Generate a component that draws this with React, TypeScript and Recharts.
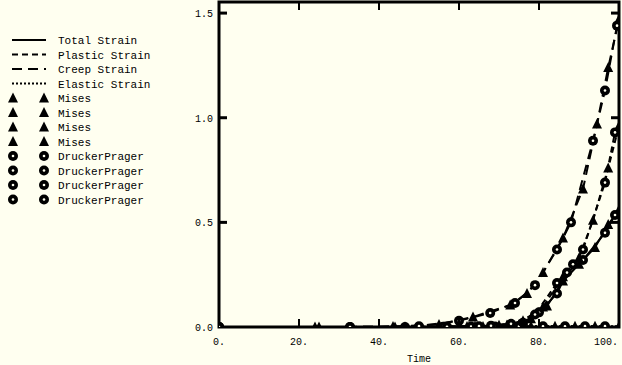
import { LineChart, Line, XAxis, YAxis, ReferenceArea } from 'recharts'

// values (time vs strain)
const timeTicks = [0, 20, 40, 60, 80, 100]
const strainTicks = [0, 0.5, 1.0, 1.5]

const totalMisesTime = [0, 46.5, 64, 72, 78, 82, 86, 90, 94, 97.3, 100]
const totalMisesStrain = [0, 0, 0.004, 0.01, 0.04, 0.1, 0.22, 0.3, 0.38, 0.49, 0.56]
const totalDpTime = [0, 57, 68, 76, 80, 84.5, 87, 91, 96.5, 99]
const totalDpStrain = [0, 0.001, 0.006, 0.02, 0.07, 0.16, 0.26, 0.32, 0.45, 0.535]

const plasticMisesTime = [0, 44, 62, 70, 76, 81, 86, 90, 93.5, 97.3, 100]
const plasticMisesStrain = [0, 0, 0.002, 0.008, 0.03, 0.096, 0.24, 0.33, 0.51, 0.76, 0.96]
const plasticDpTime = [0, 50, 65, 73, 79, 84.5, 88.5, 91, 96.5, 99]
const plasticDpStrain = [0, 0, 0.004, 0.015, 0.06, 0.21, 0.3, 0.37, 0.69, 0.93]

const creepMisesTime = [0, 25, 43.5, 55, 63.5, 72.8, 77, 81, 86, 91, 94.5, 97.3, 100]
const creepMisesStrain = [0, 0, 0.002, 0.012, 0.048, 0.105, 0.16, 0.26, 0.425, 0.66, 0.97, 1.24, 1.47]
const creepDpTime = [0, 32.75, 50, 60, 67.8, 74, 79, 84.5, 88, 93.5, 96.5, 99.5]
const creepDpStrain = [0, 0, 0.004, 0.03, 0.067, 0.115, 0.2, 0.37, 0.5, 0.89, 1.13, 1.44]

const elasticMisesTime = [0, 24, 46.5, 60, 66, 72, 78, 84, 89, 94, 100]
const elasticMisesStrain = [0, 0, 0, 0.001, 0.002, 0.002, 0.003, 0.003, 0.003, 0.004, 0.004]
const elasticDpTime = [0, 32.75, 46.5, 56, 63, 69, 75, 81, 86.5, 91.5, 96.5]
const elasticDpStrain = [0, 0, 0, 0.001, 0.002, 0.002, 0.003, 0.003, 0.003, 0.004, 0.004]

const lineNames = ['Total Strain', 'Plastic Strain', 'Creep Strain', 'Elastic Strain']
const modelNames = ['Mises', 'DruckerPrager']

const W = 622
const H = 365
const PLOT_LEFT = 219
const PLOT_RIGHT = 619
const PLOT_TOP = 2
const PLOT_BOTTOM = 327
const Y_MAX = 1.553
const BG = '#fffff0'
const FONT = '"Liberation Mono", "DejaVu Sans Mono", monospace'

const dashes = ['', '6 4', '10 6', '2 2']

const zip = (t: number[], s: number[]) => t.map((x, i) => ({ x, y: s[i] }))

const series = [
  { key: 'elM', data: zip(elasticMisesTime, elasticMisesStrain), dash: dashes[3], mark: 'tri' },
  { key: 'elD', data: zip(elasticDpTime, elasticDpStrain), dash: dashes[3], mark: 'ring' },
  { key: 'toM', data: zip(totalMisesTime, totalMisesStrain), dash: dashes[0], mark: 'tri' },
  { key: 'toD', data: zip(totalDpTime, totalDpStrain), dash: dashes[0], mark: 'ring' },
  { key: 'plM', data: zip(plasticMisesTime, plasticMisesStrain), dash: dashes[1], mark: 'tri' },
  { key: 'plD', data: zip(plasticDpTime, plasticDpStrain), dash: dashes[1], mark: 'ring' },
  { key: 'crM', data: zip(creepMisesTime, creepMisesStrain), dash: dashes[2], mark: 'tri' },
  { key: 'crD', data: zip(creepDpTime, creepDpStrain), dash: dashes[2], mark: 'ring' },
]

const Tri = ({ cx, cy }: { cx: number; cy: number }) => (
  <polygon points={`${cx},${cy - 5.5} ${cx - 5},${cy + 4.5} ${cx + 5},${cy + 4.5}`} fill="#000" />
)

const Ring = ({ cx, cy }: { cx: number; cy: number }) => (
  <g>
    <circle cx={cx} cy={cy} r={5} fill="#000" />
    <circle cx={cx} cy={cy} r={1.3} fill={BG} />
  </g>
)

const renderDot = (mark: string) => (p: any) =>
  mark === 'tri' ? (
    <Tri key={p.index} cx={p.cx} cy={p.cy} />
  ) : (
    <Ring key={p.index} cx={p.cx} cy={p.cy} />
  )

const XTick = (p: any) => {
  const v = p.payload.value
  const last = v === timeTicks[timeTicks.length - 1]
  const inner = v !== timeTicks[0] && !last
  return (
    <g>
      <text
        x={last ? p.x - 1 : p.x}
        y={345}
        textAnchor={last ? 'end' : 'middle'}
        fontFamily={FONT}
        fontSize={10}
        fill="#000"
      >
        {`${v}.`}
      </text>
      {inner && (
        <>
          <line x1={p.x} x2={p.x} y1={PLOT_BOTTOM} y2={PLOT_BOTTOM - 8} stroke="#000" strokeWidth={2} />
          <line x1={p.x} x2={p.x} y1={PLOT_TOP} y2={PLOT_TOP + 8} stroke="#000" strokeWidth={2} />
        </>
      )}
    </g>
  )
}

const YTick = (p: any) => {
  const v = p.payload.value
  return (
    <g>
      <text x={PLOT_LEFT - 6} y={p.y + 4} textAnchor="end" fontFamily={FONT} fontSize={10} fill="#000">
        {v.toFixed(1)}
      </text>
      {v !== 0 && (
        <>
          <line x1={PLOT_LEFT} x2={PLOT_LEFT + 8} y1={p.y} y2={p.y} stroke="#000" strokeWidth={3} />
          <line x1={PLOT_RIGHT - 8} x2={PLOT_RIGHT} y1={p.y} y2={p.y} stroke="#000" strokeWidth={3} />
        </>
      )}
    </g>
  )
}

const LegendBox = () => {
  const rowY = (i: number) => 40 + 14.5 * i
  return (
    <svg width={170} height={215} style={{ position: 'absolute', left: 0, top: 0 }}>
      {lineNames.map((name, i) => (
        <g key={name}>
          <line
            x1={12}
            x2={46}
            y1={rowY(i)}
            y2={rowY(i)}
            stroke="#000"
            strokeWidth={2}
            strokeDasharray={dashes[i] || undefined}
          />
          <text x={58} y={rowY(i) + 4} fontFamily={FONT} fontSize={11} fill="#000">
            {name}
          </text>
        </g>
      ))}
      {[0, 1, 2, 3, 4, 5, 6, 7].map((k) => {
        const m = k < 4 ? 0 : 1
        const y = rowY(4 + k)
        const Mark = m === 0 ? Tri : Ring
        return (
          <g key={k}>
            <Mark cx={13} cy={y} />
            <Mark cx={44} cy={y} />
            <text x={58} y={y + 4} fontFamily={FONT} fontSize={11} fill="#000">
              {modelNames[m]}
            </text>
          </g>
        )
      })}
    </svg>
  )
}

export default function App() {
  return (
    <div style={{ position: 'relative', width: W, height: H, background: BG }}>
      <style>{`body{margin:0;background:${BG};}`}</style>
      <LegendBox />
      <LineChart
        width={W}
        height={H}
        margin={{ top: PLOT_TOP, right: W - PLOT_RIGHT, left: 0, bottom: 0 }}
        style={{ position: 'absolute', left: 0, top: 0 }}
      >
        <XAxis
          dataKey="x"
          type="number"
          domain={[0, 100]}
          ticks={timeTicks}
          axisLine={false}
          tickLine={false}
          tick={XTick}
          height={H - PLOT_BOTTOM}
          interval={0}
          allowDataOverflow
        />
        <YAxis
          type="number"
          domain={[0, Y_MAX]}
          ticks={strainTicks}
          axisLine={false}
          tickLine={false}
          tick={YTick}
          width={PLOT_LEFT}
          interval={0}
          allowDataOverflow
        />
        {series.map((s) => (
          <Line
            key={s.key}
            data={s.data}
            dataKey="y"
            type="linear"
            stroke="#000"
            strokeWidth={2}
            strokeDasharray={s.dash || undefined}
            dot={renderDot(s.mark)}
            activeDot={false}
            isAnimationActive={false}
          />
        ))}
        <ReferenceArea x1={0} x2={100} y1={0} y2={Y_MAX} fill="none" stroke="#000" strokeWidth={3} />
        <text x={(PLOT_LEFT + PLOT_RIGHT) / 2} y={362} textAnchor="middle" fontFamily={FONT} fontSize={10} fill="#000">
          Time
        </text>
      </LineChart>
    </div>
  )
}
